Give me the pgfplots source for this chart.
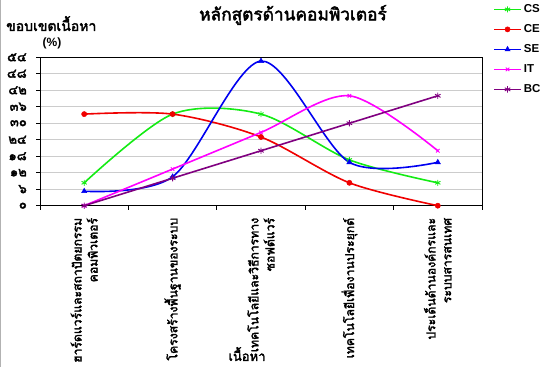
\documentclass[border=0pt]{standalone}
\usepackage{fontspec}
\setmainfont{Liberation Sans}
\newfontfamily\thai[Script=Thai, AutoFakeBold=2.5]{Loma}
\usepackage{pgfplots}
\pgfplotsset{compat=1.18}
\definecolor{csg}{RGB}{20,235,20}
\definecolor{cer}{RGB}{240,0,0}
\definecolor{seb}{RGB}{0,0,240}
\definecolor{itm}{RGB}{255,0,255}
\definecolor{bcp}{RGB}{128,0,128}
\begin{document}
\begin{tikzpicture}[x=1pt,y=1pt]
\path[use as bounding box] (0,0) rectangle (544,367);
\draw[gray!60, line width=1pt] (0.5,0) -- (0.5,367);
\begin{axis}[
  at={(40pt,161.3pt)}, anchor=south west,
  scale only axis, width=442pt, height=148.4pt,
  xmin=-0.5, xmax=4.5, ymin=0, ymax=54,
  ytick={0,6,...,54},
  yticklabels={๐,๖,๑๒,๑๘,๒๔,๓๐,๓๖,๔๒,๔๘,๕๔},
  yticklabel style={font=\thai\bfseries\fontsize{13}{14}\selectfont, inner sep=0pt, anchor=east, xshift=-9pt},
  ymajorgrids, grid style={gray!40, line width=0.9pt},
  xtick={0,...,4},
  xticklabels={{ฮาร์ดแวร์และสถาปัตยกรรม\\คอมพิวเตอร์},{โครงสร้างพื้นฐานของระบบ},{เทคโนโลยีและวิธีการทาง\\ซอฟต์แวร์},{เทคโนโลยีเพื่องานประยุกต์},{ประเด็นด้านองค์กรและ\\ระบบสารสนเทศ}},
  xticklabel style={font=\thai\bfseries\fontsize{12.2}{16}\selectfont, rotate=90, anchor=east, align=right, inner sep=0pt},
  xticklabel shift=8pt,
  major x tick style={draw=none},
  minor xtick={-0.5,0.5,...,4.5},
  tick align=outside, xtick pos=bottom, ytick pos=left,
  major tick length=4pt, minor tick length=4pt,
  tick style={black, line width=0.8pt},
  axis line style={black, line width=0.9pt},
  legend style={at={(1.025,1.37)}, anchor=north west, draw=none, fill=none,
    font=\bfseries\fontsize{11.5}{12}\selectfont, row sep=6.5pt, inner sep=0pt},
  legend cell align=left,
  legend image code/.code={\draw[mark repeat=2,mark phase=2,#1] plot coordinates {(0pt,0pt) (13.5pt,0pt) (27pt,0pt)};},
  every axis plot/.append style={line width=1.6pt, smooth},
]
\addplot[csg, mark=asterisk, mark size=3pt, mark options={line width=0.9pt}] coordinates {(0,8.33)(1,33.33)(2,33.33)(3,16.67)(4,8.33)};
\addplot[cer, mark=*, mark size=2.6pt, mark options={line width=0.5pt}] coordinates {(0,33.33)(1,33.33)(2,25)(3,8.33)(4,0)};
\addplot[seb, mark=triangle*, mark size=3pt, mark options={line width=0.5pt}] coordinates {(0,5.26)(1,10.53)(2,52.63)(3,15.79)(4,15.79)};
\addplot[itm, mark=x, mark size=2.5pt, mark options={line width=0.9pt}] coordinates {(0,0)(1,13.33)(2,26.67)(3,40)(4,20)};
\addplot[bcp, mark=asterisk, mark size=3.2pt, mark options={line width=0.9pt}] coordinates {(0,0)(1,10)(2,20)(3,30)(4,40)};
\legend{CS,CE,SE,IT,BC}
\end{axis}
\node[font=\thai\bfseries\fontsize{17.3}{18}\selectfont] at (293,352) {หลักสูตรด้านคอมพิวเตอร์};
\node[font=\thai\bfseries\fontsize{14}{15}\selectfont, anchor=base west, inner sep=0pt, text depth=0pt] at (6,336) {ขอบเขตเนื้อหา};
\node[font=\bfseries\fontsize{12}{13}\selectfont, inner sep=0pt] at (52,324) {(\%)};
\node[font=\thai\bfseries\fontsize{13}{14}\selectfont, inner sep=0pt] at (247,13) {เนื้อหา};
\end{tikzpicture}
\end{document}
